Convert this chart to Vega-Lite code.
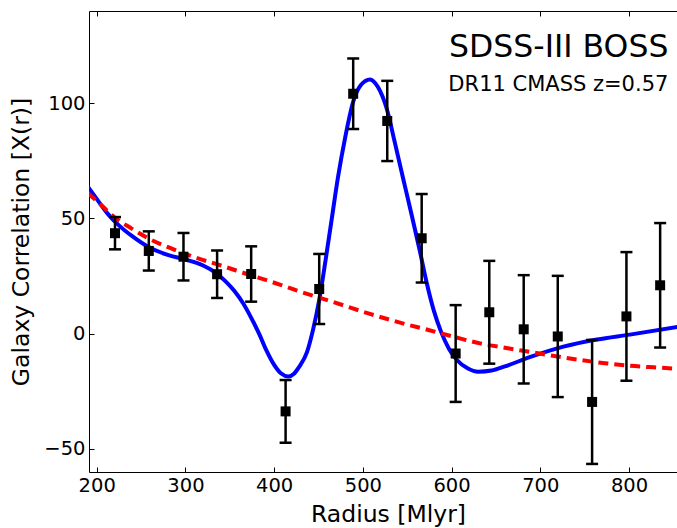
{
  "$schema": "https://vega.github.io/schema/vega-lite/v6.json",
  "autosize": "none",
  "padding": {"left": 89, "top": 11, "right": 0, "bottom": 56},
  "width": 588,
  "height": 461,
  "datasets": {
    "bao": [
      {"r": 190, "xi": 63.8}, {"r": 200, "xi": 58.5}, {"r": 212, "xi": 52.2}, {"r": 225, "xi": 47},
      {"r": 240, "xi": 42.3}, {"r": 258, "xi": 37.7}, {"r": 280, "xi": 34.2}, {"r": 300, "xi": 32.2},
      {"r": 320, "xi": 29.6}, {"r": 335, "xi": 26.2}, {"r": 345, "xi": 22.8}, {"r": 355, "xi": 18.6},
      {"r": 365, "xi": 13.2}, {"r": 374, "xi": 7.0}, {"r": 383, "xi": 0}, {"r": 391, "xi": -7},
      {"r": 400, "xi": -13.5}, {"r": 408, "xi": -17.3}, {"r": 416, "xi": -18.6}, {"r": 422, "xi": -17.5},
      {"r": 428, "xi": -14.5}, {"r": 437, "xi": -8}, {"r": 444, "xi": 2}, {"r": 451, "xi": 15},
      {"r": 458, "xi": 32}, {"r": 465, "xi": 50}, {"r": 472, "xi": 68}, {"r": 480, "xi": 85},
      {"r": 489, "xi": 100.5}, {"r": 498, "xi": 108}, {"r": 508, "xi": 110.3}, {"r": 517, "xi": 107},
      {"r": 527, "xi": 97.5}, {"r": 536, "xi": 83}, {"r": 545, "xi": 68}, {"r": 555, "xi": 51.5},
      {"r": 564, "xi": 36.3}, {"r": 572, "xi": 22}, {"r": 580, "xi": 10}, {"r": 588, "xi": 1},
      {"r": 597, "xi": -6.5}, {"r": 606, "xi": -11.4}, {"r": 618, "xi": -15}, {"r": 630, "xi": -16.5},
      {"r": 645, "xi": -16}, {"r": 660, "xi": -14.2}, {"r": 688, "xi": -10.2}, {"r": 726, "xi": -5.6},
      {"r": 764, "xi": -2.5}, {"r": 801, "xi": -0.4}, {"r": 860, "xi": 3.3}
    ],
    "nobao": [
      {"r": 190, "xi": 61}, {"r": 205, "xi": 55.8}, {"r": 220, "xi": 50.5}, {"r": 239, "xi": 45.7},
      {"r": 260, "xi": 41}, {"r": 284, "xi": 37}, {"r": 310, "xi": 33.2}, {"r": 340, "xi": 29.6},
      {"r": 370, "xi": 25.8}, {"r": 408, "xi": 21.1}, {"r": 425, "xi": 18.8}, {"r": 463, "xi": 14.2},
      {"r": 508, "xi": 8.6}, {"r": 540, "xi": 5}, {"r": 575, "xi": 1.5}, {"r": 605, "xi": -1.6},
      {"r": 632, "xi": -4.2}, {"r": 660, "xi": -6.1}, {"r": 688, "xi": -7.9}, {"r": 716, "xi": -9.7},
      {"r": 745, "xi": -11.4}, {"r": 773, "xi": -12.8}, {"r": 801, "xi": -13.9}, {"r": 828, "xi": -14.6},
      {"r": 860, "xi": -15.3}
    ],
    "obs": [
      {"r": 220.6, "xi": 43.6, "err": 7.0},
      {"r": 258.7, "xi": 35.9, "err": 8.5},
      {"r": 297.8, "xi": 33.4, "err": 10.3},
      {"r": 335.7, "xi": 25.8, "err": 10.3},
      {"r": 374.1, "xi": 25.9, "err": 12.0},
      {"r": 412.9, "xi": -33.7, "err": 13.6},
      {"r": 450.8, "xi": 19.4, "err": 15.2},
      {"r": 489.1, "xi": 104.1, "err": 15.3},
      {"r": 527.5, "xi": 92.3, "err": 17.4},
      {"r": 566.3, "xi": 41.4, "err": 19.2},
      {"r": 604.6, "xi": -8.6, "err": 21.0},
      {"r": 642.5, "xi": 9.3, "err": 22.3},
      {"r": 681.3, "xi": 1.9, "err": 23.5},
      {"r": 719.7, "xi": -1.2, "err": 26.3},
      {"r": 758.4, "xi": -29.6, "err": 26.9},
      {"r": 797.1, "xi": 7.5, "err": 27.9},
      {"r": 835.1, "xi": 21.0, "err": 27.0}
    ]
  },
  "config": {
    "font": "DejaVu Sans",
    "view": {"stroke": null},
    "axis": {
      "grid": false,
      "domain": true,
      "domainColor": "#000000",
      "domainWidth": 1,
      "tickColor": "#000000",
      "tickWidth": 1,
      "tickSize": -5,
      "labelColor": "#000000",
      "labelFontSize": 19.5,
      "labelPadding": 9,
      "titleColor": "#000000",
      "titleFontSize": 23.5,
      "titleFontWeight": "normal"
    }
  },
  "resolve": {"axis": {"x": "independent"}},
  "layer": [
    {
      "data": {"name": "bao"},
      "mark": {"type": "line", "color": "#0000ff", "strokeWidth": 4, "interpolate": "monotone", "clip": true},
      "encoding": {
        "x": {
          "field": "r", "type": "quantitative",
          "scale": {"domain": [191.3, 854.1], "nice": false, "zero": false},
          "axis": {"orient": "bottom", "domain": true, "values": [200, 300, 400, 500, 600, 700, 800], "title": "Radius [Mlyr]", "titlePadding": 8, "titleX": 299}
        },
        "y": {
          "field": "xi", "type": "quantitative",
          "scale": {"domain": [-60, 140], "nice": false, "zero": false},
          "axis": {"orient": "left", "domain": true, "values": [-50, 0, 50, 100], "title": "Galaxy Correlation [X(r)]", "titlePadding": 10}
        }
      }
    },
    {
      "data": {"name": "nobao"},
      "mark": {"type": "line", "color": "#ff0000", "strokeWidth": 4, "strokeDash": [10, 6], "interpolate": "monotone", "clip": true},
      "encoding": {
        "x": {"field": "r", "type": "quantitative", "axis": {"orient": "top", "domain": true, "values": [200, 300, 400, 500, 600, 700, 800], "labels": false, "title": null}},
        "y": {"field": "xi", "type": "quantitative"}
      }
    },
    {
      "data": {"name": "obs"},
      "transform": [
        {"calculate": "datum.xi - datum.err", "as": "lo"},
        {"calculate": "datum.xi + datum.err", "as": "hi"}
      ],
      "layer": [
        {
          "mark": {"type": "rule", "color": "#000000", "strokeWidth": 2.5},
          "encoding": {
            "x": {"field": "r", "type": "quantitative", "axis": null},
            "y": {"field": "lo", "type": "quantitative"},
            "y2": {"field": "hi"}
          }
        },
        {
          "mark": {"type": "tick", "orient": "horizontal", "color": "#000000", "size": 12, "thickness": 2.5, "opacity": 1},
          "encoding": {
            "x": {"field": "r", "type": "quantitative", "axis": null},
            "y": {"field": "lo", "type": "quantitative"}
          }
        },
        {
          "mark": {"type": "tick", "orient": "horizontal", "color": "#000000", "size": 12, "thickness": 2.5, "opacity": 1},
          "encoding": {
            "x": {"field": "r", "type": "quantitative", "axis": null},
            "y": {"field": "hi", "type": "quantitative"}
          }
        },
        {
          "mark": {"type": "point", "shape": "square", "filled": true, "color": "#000000", "size": 100, "opacity": 1},
          "encoding": {
            "x": {"field": "r", "type": "quantitative", "axis": null},
            "y": {"field": "xi", "type": "quantitative"}
          }
        }
      ]
    },
    {
      "data": {"values": [{"label": "SDSS-III BOSS"}]},
      "mark": {"type": "text", "align": "right", "baseline": "alphabetic", "fontSize": 31.5, "color": "#000000"},
      "encoding": {
        "x": {"datum": 844.4, "type": "quantitative", "axis": null},
        "y": {"datum": 120.1, "type": "quantitative"},
        "text": {"field": "label"}
      }
    },
    {
      "data": {"values": [{"label": "DR11 CMASS z=0.57"}]},
      "mark": {"type": "text", "align": "right", "baseline": "alphabetic", "fontSize": 21, "color": "#000000"},
      "encoding": {
        "x": {"datum": 844.4, "type": "quantitative", "axis": null},
        "y": {"datum": 105.4, "type": "quantitative"},
        "text": {"field": "label"}
      }
    }
  ]
}
